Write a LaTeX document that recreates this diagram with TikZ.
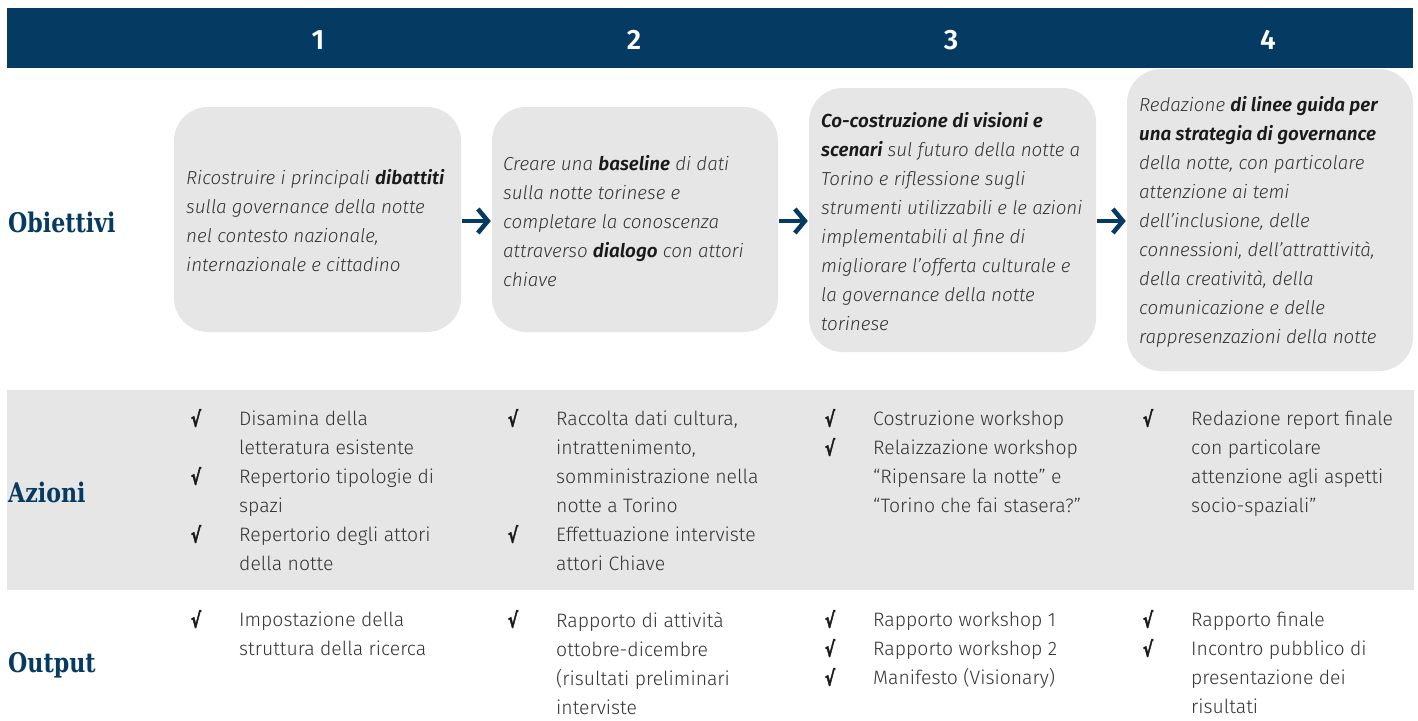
\documentclass[tikz,border=0pt]{standalone}
\usepackage{fontspec}
\setmainfont{Fira Sans}[UprightFont=* Light, ItalicFont=* Light Italic, BoldFont=* SemiBold, BoldItalicFont=* SemiBold Italic]
\newfontfamily\slab{DejaVu Serif}[FakeStretch=0.82]
\newfontfamily\sym{DejaVu Sans}[FakeStretch=0.72, FakeBold=2]
\usetikzlibrary{arrows.meta}
\definecolor{navy}{HTML}{053A62}
\definecolor{boxgray}{HTML}{E6E6E6}
\definecolor{txt}{HTML}{333333}
\definecolor{dark}{HTML}{1A1A1A}
\tikzset{
  goalbox/.style={fill=boxgray, rounded corners=34pt, draw=none},
  goaltext/.style={anchor=north west, inner sep=0pt, align=left, text=txt,
     font=\fontsize{18.8}{29}\selectfont\itshape},
  itemtext/.style={anchor=north west, inner sep=0pt, align=left, text=txt,
     font=\fontsize{19.4}{29}\selectfont},
  tick/.style={inner sep=0pt, text=dark, font=\sym\bfseries\fontsize{21}{21}\selectfont},
  rowlabel/.style={anchor=west, inner sep=0pt, text=navy, font=\slab\bfseries\fontsize{27}{27}\selectfont},
  colnum/.style={inner sep=0pt, text=white, font=\bfseries\fontsize{28}{28}\selectfont},
  flow/.style={draw=navy, line width=4.5pt, -{Straight Barb[length=10pt,width=24pt]}, shorten <=1pt, shorten >=1pt}
}
\newcommand{\bi}[1]{\textbf{\color{dark}#1}}
\begin{document}
\begin{tikzpicture}[x=1pt,y=-1pt]
\useasboundingbox (0,0) rectangle (1418,720);
\fill[white] (0,0) rectangle (1418,720);
% header band
\fill[navy] (7,8) rectangle (1413,68);
\node[colnum] (n1) at (318,40) {1};
\node[colnum] (n2) at (634,40) {2};
\node[colnum] (n3) at (951,40) {3};
\node[colnum] (n4) at (1268,40) {4};
% actions band
\fill[boxgray] (7,390) rectangle (1414,590);
% row labels
\node[rowlabel] (lobj) at (8,222) {Obiettivi};
\node[rowlabel] (lazi) at (8,492) {Azioni};
\node[rowlabel] (lout) at (8,665) {Output};
% goal boxes
\node[goalbox, minimum width=287pt, minimum height=225pt] (b1) at (317.5,219.5) {};
\node[goalbox, minimum width=286pt, minimum height=225pt] (b2) at (635,219.5) {};
\node[goalbox, minimum width=287pt, minimum height=264pt] (b3) at (952.5,220) {};
\node[goalbox, minimum width=286pt, minimum height=302pt] (b4) at (1270,220) {};
\node[goaltext] (t1) at (186,169) {Ricostruire i principali \bi{dibattiti}\\sulla governance della notte\\nel contesto nazionale,\\internazionale e cittadino};
\node[goaltext] (t2) at (503,155) {Creare una \bi{baseline} di dati\\sulla notte torinese e\\completare la conoscenza\\attraverso \bi{dialogo} con attori\\chiave};
\node[goaltext] (t3) at (821,112) {\bi{Co-costruzione di visioni e}\\\bi{scenari} sul futuro della notte a\\Torino e riflessione sugli\\strumenti utilizzabili e le azioni\\implementabili al fine di\\migliorare l’offerta culturale e\\la governance della notte\\torinese};
\node[goaltext] (t4) at (1139,96) {Redazione \bi{di linee guida per}\\\bi{una strategia di governance}\\della notte, con particolare\\attenzione ai temi\\dell’inclusione, delle\\connessioni, dell’attrattività,\\della creatività, della\\comunicazione e delle\\rappresenzazioni della notte};
% arrows
\draw[flow] (b1.east |- 0,221) -- (b2.west |- 0,221);
\draw[flow] (b2.east |- 0,221) -- (b3.west |- 0,221);
\draw[flow] (b3.east |- 0,221) -- (b4.west |- 0,221);
% actions
\node[itemtext] (a1) at (239,411) {Disamina della\\letteratura esistente\\Repertorio tipologie di\\spazi\\Repertorio degli attori\\della notte};
\node[itemtext] (a2) at (556,411) {Raccolta dati cultura,\\intrattenimento,\\somministrazione nella\\notte a Torino\\Effettuazione interviste\\attori Chiave};
\node[itemtext] (a3) at (873,411) {Costruzione workshop\\Relaizzazione workshop\\“Ripensare la notte” e\\“Torino che fai stasera?”};
\node[itemtext] (a4) at (1191,411) {Redazione report finale\\con particolare\\attenzione agli aspetti\\socio-spaziali”};
\node[tick] (ca11) at (196,418) {√};
\node[tick] (ca12) at (196,476) {√};
\node[tick] (ca13) at (196,534) {√};
\node[tick] (ca21) at (513,418) {√};
\node[tick] (ca22) at (513,534) {√};
\node[tick] (ca31) at (830,418) {√};
\node[tick] (ca32) at (830,447) {√};
\node[tick] (ca41) at (1148,418) {√};
% outputs
\node[itemtext] (o1) at (239,612) {Impostazione della\\struttura della ricerca};
\node[itemtext] (o2) at (556,612) {Rapporto di attività\\ottobre-dicembre\\(risultati preliminari\\interviste};
\node[itemtext] (o3) at (873,612) {Rapporto workshop 1\\Rapporto workshop 2\\Manifesto (Visionary)};
\node[itemtext] (o4) at (1191,612) {Rapporto finale\\Incontro pubblico di\\presentazione dei\\risultati};
\node[tick] (co11) at (196,619) {√};
\node[tick] (co21) at (513,619) {√};
\node[tick] (co31) at (830,619) {√};
\node[tick] (co32) at (830,648) {√};
\node[tick] (co33) at (830,677) {√};
\node[tick] (co41) at (1148,619) {√};
\node[tick] (co42) at (1148,648) {√};
\end{tikzpicture}
\end{document}
